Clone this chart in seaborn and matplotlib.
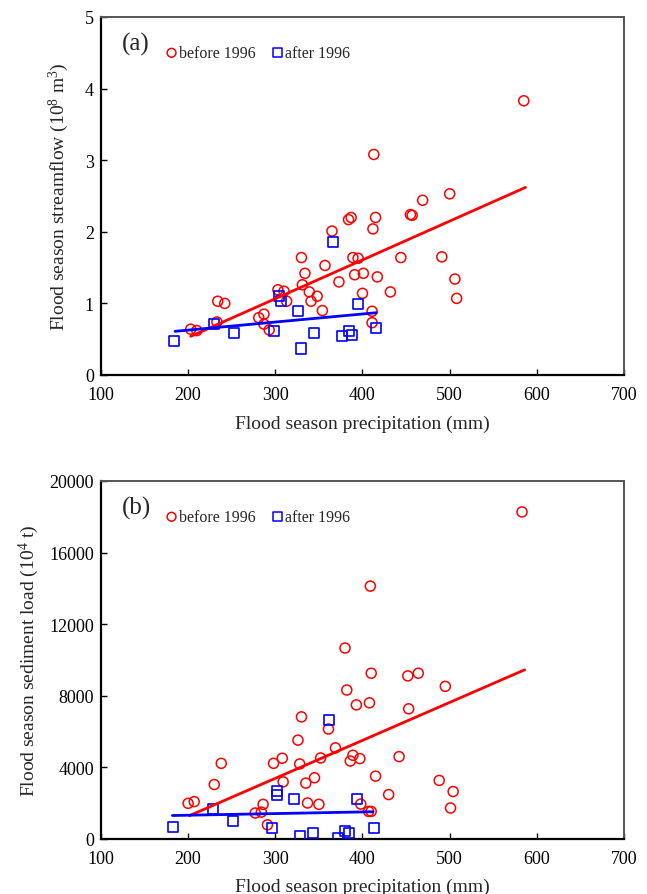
import numpy as np
import pandas as pd
import matplotlib
matplotlib.use("Agg")
import matplotlib.pyplot as plt
import seaborn as sns

# ---------------- data ----------------
# Panel (a): flood season streamflow (10^8 m^3)
a_before_x = [203, 210, 234, 242, 233, 281, 287, 287, 293, 303, 310, 313, 330, 334, 331,
              339, 341, 348, 354, 413, 500, 469, 455, 457, 384, 387, 415, 412, 365, 389,
              395, 444, 491, 357, 391, 401, 417, 373, 506, 400, 432, 508, 411, 411, 585]
a_before_y = [0.64, 0.62, 1.03, 1.00, 0.74, 0.80, 0.85, 0.71, 0.63, 1.19, 1.17, 1.03, 1.64, 1.42, 1.26,
              1.16, 1.03, 1.10, 0.90, 3.08, 2.53, 2.44, 2.24, 2.23, 2.17, 2.20, 2.20, 2.04, 2.01, 1.64,
              1.63, 1.64, 1.65, 1.53, 1.40, 1.42, 1.37, 1.30, 1.34, 1.14, 1.16, 1.07, 0.89, 0.73, 3.83]
a_after_x = [184, 230, 253, 304, 306, 299, 326, 329, 344, 366, 395, 376, 385, 388, 415]
a_after_y = [0.47, 0.71, 0.59, 1.10, 1.04, 0.62, 0.89, 0.37, 0.59, 1.86, 0.99, 0.55, 0.61, 0.56, 0.66]
a_fit_before_x = [203, 587]
a_fit_before_y = [0.54, 2.62]
a_fit_after_x = [185, 416]
a_fit_after_y = [0.61, 0.87]

# Panel (b): flood season sediment load (10^4 t)
b_before_x = [200, 207, 230, 238, 330, 326, 298, 308, 328, 309, 335, 345, 286, 277, 284,
              291, 337, 350, 380, 410, 452, 464, 495, 382, 408, 393, 453, 361, 369, 352,
              389, 386, 397, 442, 415, 488, 504, 430, 398, 501, 407, 410, 583, 409]
b_before_y = [1990, 2085, 3040, 4225, 6820, 5520, 4225, 4510, 4190, 3190, 3120, 3420, 1935, 1450, 1500,
              790, 2010, 1935, 10665, 9260, 9110, 9260, 8525, 8320, 7605, 7490, 7270, 6140, 5090, 4525,
              4675, 4355, 4490, 4600, 3510, 3270, 2650, 2480, 1950, 1730, 1540, 1540, 18270, 14125]
b_after_x = [183, 229, 252, 302, 302, 321, 296, 328, 343, 362, 394, 372, 380, 385, 413]
b_after_y = [660, 1670, 1030, 2670, 2440, 2250, 600, 150, 320, 6650, 2250, 75, 470, 340, 600]
b_fit_before_x = [201.5, 586]
b_fit_before_y = [1300, 9450]
b_fit_after_x = [182, 412]
b_fit_after_y = [1310, 1520]

x_ticks = [100, 200, 300, 400, 500, 600, 700]
a_yticks = [0, 1, 2, 3, 4, 5]
b_yticks = [0, 4000, 8000, 12000, 16000, 20000]

# ---------------- style ----------------
sns.set_style("ticks")
plt.rcParams["font.family"] = ["Liberation Serif", "DejaVu Serif"]
plt.rcParams["mathtext.fontset"] = "custom"
plt.rcParams["mathtext.rm"] = "Liberation Serif"
plt.rcParams["mathtext.it"] = "Liberation Serif:italic"

RED = "#ff0000"
BLUE = "#0000ff"

fig = plt.figure(figsize=(6.47, 8.95), dpi=100)
ax_a = fig.add_axes([0.156, 0.5799, 0.8085, 0.400])
ax_b = fig.add_axes([0.156, 0.0615, 0.8085, 0.400])


def draw(ax, bx, by, ax_x, ay, fbx, fby, fax, fay, yticks, ylabel, tag, ylabelpad):
    dfb = pd.DataFrame({"x": bx, "y": by})
    dfa = pd.DataFrame({"x": ax_x, "y": ay})
    sns.scatterplot(data=dfb, x="x", y="y", ax=ax, marker="o", s=52,
                    facecolors="none", edgecolor=RED, linewidth=1.1, zorder=3)
    sns.scatterplot(data=dfa, x="x", y="y", ax=ax, marker="s", s=52,
                    facecolors="none", edgecolor=BLUE, linewidth=1.2, zorder=3)
    sns.lineplot(x=fbx, y=fby, ax=ax, color=RED, linewidth=2.0, zorder=4)
    sns.lineplot(x=fax, y=fay, ax=ax, color=BLUE, linewidth=2.0, zorder=4)

    ax.set_xlim(x_ticks[0], x_ticks[-1])
    ax.set_ylim(yticks[0], yticks[-1])
    ax.set_xticks(x_ticks)
    ax.set_yticks(yticks)
    ax.tick_params(direction="in", length=4, width=1, labelsize=13, colors="black")
    ax.tick_params(axis="x", pad=8)
    ax.tick_params(axis="y", pad=5)
    ax.set_xlabel("Flood season precipitation (mm)", fontsize=14, labelpad=8)
    ax.set_ylabel(ylabel, fontsize=14, labelpad=ylabelpad)
    for side in ["left", "bottom"]:
        ax.spines[side].set_color("black")
        ax.spines[side].set_linewidth(1.6)
    for side in ["top", "right"]:
        ax.spines[side].set_color("#555555")
        ax.spines[side].set_linewidth(1.4)

    ax.text(0.04, 0.925, tag, transform=ax.transAxes, fontsize=18,
            va="center", ha="left")
    # legend
    ax.scatter([0.135], [0.90], transform=ax.transAxes, marker="o", s=40,
               facecolors="none", edgecolors=RED, linewidths=1.1, clip_on=False)
    ax.text(0.149, 0.90, "before 1996", transform=ax.transAxes, fontsize=11.5,
            va="center", ha="left")
    ax.scatter([0.338], [0.90], transform=ax.transAxes, marker="s", s=40,
               facecolors="none", edgecolors=BLUE, linewidths=1.1, clip_on=False)
    ax.text(0.352, 0.90, "after 1996", transform=ax.transAxes, fontsize=11.5,
            va="center", ha="left")


draw(ax_a, a_before_x, a_before_y, a_after_x, a_after_y,
     a_fit_before_x, a_fit_before_y, a_fit_after_x, a_fit_after_y,
     a_yticks, "Flood season streamflow (10$^{8}$ m$^{3}$)", "(a)", 10)
draw(ax_b, b_before_x, b_before_y, b_after_x, b_after_y,
     b_fit_before_x, b_fit_before_y, b_fit_after_x, b_fit_after_y,
     b_yticks, "Flood season sediment load (10$^{4}$ t)", "(b)", 6)

fig.savefig("out.png", dpi=100)
